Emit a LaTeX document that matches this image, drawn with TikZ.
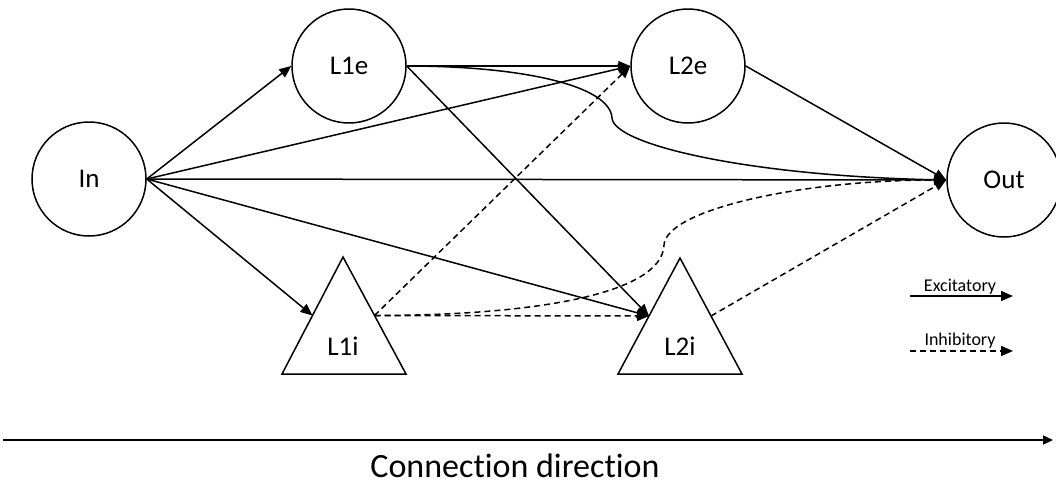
\documentclass[tikz,border=0pt]{standalone}
\usepackage{fontspec}
\setmainfont{Carlito}[Ligatures=NoCommon]
\usetikzlibrary{arrows.meta}
\begin{document}
\begin{tikzpicture}[x=1pt,y=-1pt,
  neuron/.style={draw,circle,line width=1.5pt,minimum size=114pt,inner sep=0pt,font=\fontsize{27}{31}\selectfont},
  lbl/.style={font=\fontsize{27}{31}\selectfont,inner sep=0pt},
  legendtext/.style={font=\fontsize{18}{22}\selectfont,inner sep=0pt,anchor=base},
  shapeline/.style={line width=1.5pt,line join=miter},
  exc/.style={line width=1.5pt,-{Triangle[length=12pt,width=10pt]}},
  inh/.style={exc,dash pattern=on 6pt off 4pt}]
\useasboundingbox (0,0) rectangle (1056,485);

% circular neurons
\node[neuron] (in)  at (89,179)  {In};
\node[neuron] (l1e) at (349,66)  {L1e};
\node[neuron] (l2e) at (688,66)  {L2e};
\node[neuron] (out) at (1004,180) {Out};

% triangular neurons
\draw[shapeline] (343,257) -- (406,374) -- (282,374) -- cycle;
\node[lbl] (l1i) at (343,346) {L1i};
\coordinate (l1iL) at (312.5,315.5);
\coordinate (l1iR) at (374.5,315.5);

\draw[shapeline] (680,258) -- (742,374) -- (618,374) -- cycle;
\node[lbl] (l2i) at (680,346) {L2i};
\coordinate (l2iL) at (649,316);
\coordinate (l2iR) at (711,316);

% excitatory connections
\draw[exc] (in.east) -- (l1e.west);
\draw[exc] (in.east) -- (l2e.west);
\draw[exc] (in.east) -- (out.west);
\draw[exc] (in.east) -- (l2iL);
\draw[exc] (in.east) -- (l1iL);
\draw[exc] (l1e.east) -- (l2e.west);
\draw[exc] (l1e.east) -- (l2iL);
\coordinate (k1) at (612,118);
\draw[exc] (l1e.east) .. controls (520,66) and (610,85) .. (k1)
                      .. controls (614,145) and (750,176) .. (out.west);
\draw[exc] (l2e.east) -- (out.west);

% inhibitory connections
\draw[inh] (l1iR) -- (l2e.west);
\draw[inh] (l1iR) -- (l2iL);
\coordinate (k2) at (664,245);
\draw[inh] (l1iR) .. controls (530,315.5) and (662,295) .. (k2)
                  .. controls (666,210) and (800,180) .. (out.west);
\draw[inh] (l2iR) -- (out.west);

% legend
\coordinate (e1) at (910,296);
\coordinate (e2) at (1013,296);
\draw[exc] (e1) -- (e2);
\node[legendtext] (etext) at (960,291) {Excitatory};
\coordinate (i1) at (910,351);
\coordinate (i2) at (1013,351);
\draw[inh] (i1) -- (i2);
\node[legendtext] (itext) at (960,345) {Inhibitory};

% connection direction axis
\coordinate (ax1) at (3,440);
\coordinate (ax2) at (1053,440);
\draw[line width=1.8pt,-{Triangle[length=10pt,width=9pt]}] (ax1) -- (ax2);
\node[font=\fontsize{34}{40}\selectfont,inner sep=0pt,anchor=base] (cd) at (515,477) {Connection direction};
\end{tikzpicture}
\end{document}
